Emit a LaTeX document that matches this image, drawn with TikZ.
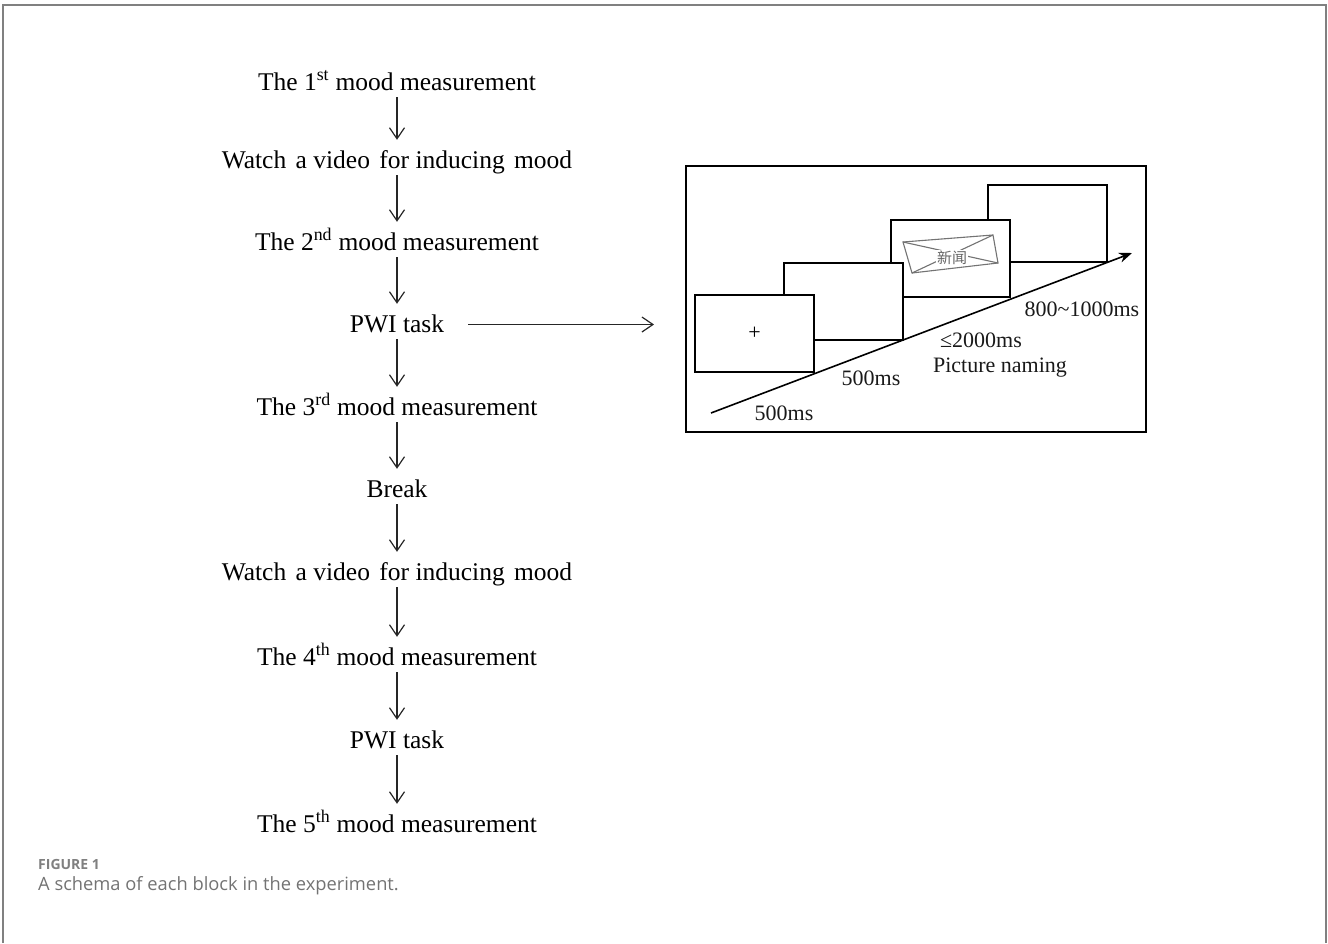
\documentclass[tikz,border=0pt]{standalone}
\usepackage{fontspec}
\setmainfont{Liberation Serif}
\newfontfamily\captionfont{Open Sans}
\newfontfamily\cjkfont{Noto Sans CJK SC}
\usetikzlibrary{arrows.meta,positioning,calc}

\begin{document}
\begin{tikzpicture}[
  x=1pt,
  y=-1pt,
  flow/.style={-{Straight Barb[length=11pt,width=15pt,line width=1.2pt]},line width=1.2pt,black!85},
  stage/.style={font=\fontsize{25.5}{30}\selectfont,inner sep=0pt,text height=28pt,text depth=7pt},
  screen/.style={draw,fill=white,line width=2pt,minimum width=119pt,minimum height=77pt,
    inner sep=0pt,font=\fontsize{22}{26}\selectfont},
  timing/.style={font=\fontsize{22}{26}\selectfont,inner sep=0pt,text=black!90},
  timeline/.style={-{Stealth[length=13pt,width=10pt]},line width=1.6pt},
  envelope/.style={draw=black!55,line width=1.1pt}
]
\useasboundingbox (0,0) rectangle (1328,943);
\draw[black!50,line width=2pt] (3,943) -- (3,5) -- (1326,5) -- (1326,943);

% block procedure
\node[stage] (mood1) at (397,79.5) {The 1\textsuperscript{st} mood measurement};
\node[stage] (video1) at (397,157.5) {Watch\hspace{3pt} a video\hspace{3pt} for inducing\hspace{3pt} mood};
\node[stage] (mood2) at (397,239.5) {The 2\textsuperscript{nd} mood measurement};
\node[stage] (pwi1) at (397,321.5) {PWI task};
\node[stage] (mood3) at (397,404.5) {The 3\textsuperscript{rd} mood measurement};
\node[stage] (rest) at (397,486.5) {Break};
\node[stage] (video2) at (397,569.5) {Watch\hspace{3pt} a video\hspace{3pt} for inducing\hspace{3pt} mood};
\node[stage] (mood4) at (397,654.5) {The 4\textsuperscript{th} mood measurement};
\node[stage] (pwi2) at (397,737.5) {PWI task};
\node[stage] (mood5) at (397,821.5) {The 5\textsuperscript{th} mood measurement};

\draw[flow] (mood1) -- (video1);
\draw[flow] (video1) -- (mood2);
\draw[flow] (mood2) -- (pwi1);
\draw[flow] (pwi1) -- (mood3);
\draw[flow] (mood3) -- (rest);
\draw[flow] (rest) -- (video2);
\draw[flow] (video2) -- (mood4);
\draw[flow] (mood4) -- (pwi2);
\draw[flow] (pwi2) -- (mood5);

% trial sequence
\node[draw,line width=2pt,minimum width=460pt,minimum height=266pt,inner sep=0pt] (trial) at (916,299) {};
\draw[flow] ($(pwi1.east)+(24,3)$) -- ($(pwi1.east -| trial.west)+(-31,3)$);

\node[screen] (blank) at (1047,223) {};
\node[screen] (target) at (950,258.5) {};
\draw[envelope] (903,242) -- (993,235) -- (998,263) -- (912,273) -- cycle;
\draw[envelope] (903,242) -- (998,263);
\draw[envelope] (993,235) -- (912,273);
\node[fill=white,inner sep=1pt,text=black!60,font=\cjkfont\fontsize{15}{17}\selectfont] (word) at (952,258) {新闻};
\node[screen] (gap) at (843.5,301.5) {};
\node[screen] (fixation) at (754.5,333.5) {+};

\coordinate (t0) at (711,413);
\coordinate (t1) at (1132,253);
\draw[timeline] (t0) -- (t1);

\node[timing] (dur1) at (784,413) {500ms};
\node[timing] (dur2) at (871,378) {500ms};
\node[timing] (dur3) at (981,340) {≤2000ms};
\node[timing] (naming) at (1000,368) {Picture naming};
\node[timing] (dur4) at (1082,309) {800\textasciitilde1000ms};

% caption
\node[anchor=west,inner sep=0pt,text=black!50,font=\captionfont\bfseries\fontsize{14}{16}\selectfont] (figno) at (38,864) {FIGURE 1};
\node[anchor=west,inner sep=0pt,text=black!55,font=\captionfont\fontsize{18.3}{21}\selectfont] (figtext) at (38,886) {A schema of each block in the experiment.};

\end{tikzpicture}
\end{document}
